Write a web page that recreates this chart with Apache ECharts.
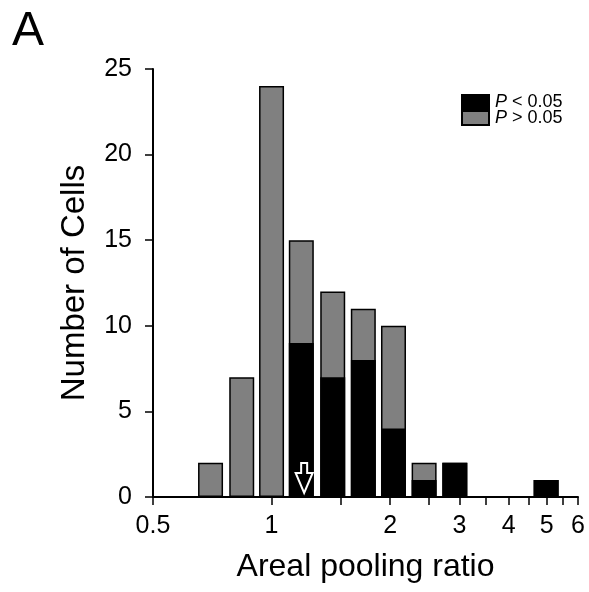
<!DOCTYPE html>
<html>
<head>
<meta charset="utf-8">
<script src="https://cdn.jsdelivr.net/npm/echarts@6/dist/echarts.min.js"></script>
<style>
html,body{margin:0;padding:0;background:#fff;}
#chart{width:589px;height:592px;}
</style>
</head>
<body>
<div id="chart"></div>
<script>
// Bin centres (areal pooling ratio)
const binCenters = [0.70, 0.84, 1.0, 1.19, 1.43, 1.71, 2.04, 2.44, 2.92, 4.98];
// Cells with P < 0.05 in each bin
const sigCounts = [0, 0, 0, 9, 7, 8, 4, 1, 2, 1];
// Cells with P > 0.05 in each bin
const nonSigCounts = [2, 7, 24, 6, 5, 3, 6, 1, 0, 0];
// Arrow marker (median) position
const arrowValue = [1.21];
// Axis ticks and labels
const xTickValues = [0.5, 1, 1.5, 2, 2.5, 3, 3.5, 4, 4.5, 5, 5.5, 6];
const xLabelValues = [0.5, 1, 2, 3, 4, 5, 6];
const yTicks = [0, 5, 10, 15, 20, 25];
const seriesNames = ['P < 0.05', 'P > 0.05'];

const L = Math.log2;
const FONT = 'Liberation Sans, Arial, sans-serif';

const chart = echarts.init(document.getElementById('chart'), null, {renderer: 'canvas'});

const barBorder = {borderColor: '#000', borderWidth: 1.5};
const totals = binCenters.map((c, i) => sigCounts[i] + nonSigCounts[i]);

const option = {
  animation: false,
  textStyle: {fontFamily: FONT, color: '#000'},
  grid: {left: 153, right: 11, top: 69, bottom: 95, containLabel: false},
  graphic: [{
    type: 'text', left: 12, top: 8,
    style: {text: 'A', fontSize: 48, fontFamily: FONT, fill: '#000'}
  }],
  legend: {
    orient: 'vertical', left: 456, top: 88,
    itemWidth: 27, itemHeight: 14, itemGap: -2,
    icon: 'rect',
    data: seriesNames,
    formatter: function (name) {
      return '{i|P}' + name.slice(1);
    },
    textStyle: {
      fontSize: 18, fontFamily: FONT, color: '#000', padding: [0, 0, 0, 1],
      rich: {i: {fontStyle: 'italic', fontSize: 18, fontFamily: FONT, color: '#000'}}
    }
  },
  xAxis: {
    type: 'value',
    min: L(0.5), max: L(6),
    name: 'Areal pooling ratio',
    nameLocation: 'middle', nameGap: 54,
    nameTextStyle: {fontSize: 32, fontFamily: FONT, color: '#000'},
    axisLine: {show: true, onZero: false, lineStyle: {color: '#000', width: 2}},
    axisTick: {show: true, inside: false, length: 8, lineStyle: {color: '#000', width: 1.5},
      customValues: xTickValues.map(L)},
    axisLabel: {show: true, fontSize: 25, color: '#000', margin: 17, fontFamily: FONT,
      customValues: xLabelValues.map(L),
      formatter: function (v) { return String(+Math.pow(2, v).toFixed(2)); }},
    splitLine: {show: false}
  },
  yAxis: {
    type: 'value', min: 0, max: 25, interval: 5,
    name: 'Number of Cells',
    nameLocation: 'middle', nameGap: 62, nameRotate: 90,
    nameTextStyle: {fontSize: 33, fontFamily: FONT, color: '#000'},
    axisLine: {show: true, onZero: false, lineStyle: {color: '#000', width: 2}},
    axisTick: {show: true, inside: false, length: 8, lineStyle: {color: '#000', width: 1.5}},
    axisLabel: {show: true, fontSize: 25, color: '#000', margin: 21, fontFamily: FONT},
    splitLine: {show: false}
  },
  series: [
    {
      name: seriesNames[1], type: 'bar', barWidth: 25, barGap: '-100%',
      itemStyle: Object.assign({color: '#808080'}, barBorder),
      data: binCenters.map((c, i) => [L(c), totals[i]])
    },
    {
      name: seriesNames[0], type: 'bar', barWidth: 25, barGap: '-100%',
      itemStyle: Object.assign({color: '#000'}, barBorder),
      data: binCenters.map((c, i) => [L(c), sigCounts[i]])
    },
    {
      type: 'custom', name: 'arrow', silent: true, z: 10,
      data: arrowValue.map(v => [L(v), 0]),
      renderItem: function (params, api) {
        const p = api.coord([api.value(0), 0]);
        const x = p[0], y = p[1];
        const tip = y - 4, headTop = y - 24, top = y - 34;
        return {
          type: 'polygon',
          shape: {points: [
            [x - 3, top], [x + 3, top], [x + 3, headTop], [x + 8.5, headTop],
            [x, tip], [x - 8.5, headTop], [x - 3, headTop]
          ]},
          style: {fill: '#000', stroke: '#fff', lineWidth: 2}
        };
      }
    }
  ]
};
chart.setOption(option);
</script>
</body>
</html>
